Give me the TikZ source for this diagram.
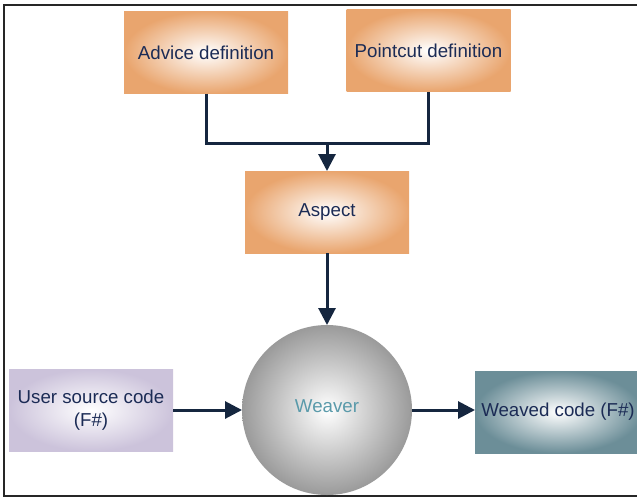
\documentclass[tikz,border=0pt]{standalone}
\usepackage{fontspec}
\setmainfont{Liberation Sans}
\usetikzlibrary{arrows.meta,shadings}
\definecolor{navy}{HTML}{1B2B55}
\definecolor{arrowc}{HTML}{15263F}
\definecolor{orng}{HTML}{E9A56E}
\definecolor{lav}{HTML}{CCC3DB}
\definecolor{teal}{HTML}{6C8E98}
\definecolor{ballg}{HTML}{9A9A9A}
\definecolor{wtext}{HTML}{5A9AAA}
\begin{document}
\begin{tikzpicture}[x=1pt,y=-1pt,
  box/.style={rectangle,inner sep=0pt,outer sep=0pt,minimum width=164pt,minimum height=82pt,
    align=center,text=navy,font=\fontsize{18.7}{23}\selectfont},
  orangebox/.style={box,inner color=white,outer color=orng},
  conn/.style={draw=arrowc,line width=3pt,-{Triangle[length=17pt,width=17pt]}},
  link/.style={draw=arrowc,line width=3pt}]
\useasboundingbox (0,0) rectangle (637,498);
\draw[line width=1.5pt,draw=black!85] (4,5) rectangle (660,496);
\node[orangebox] (adv) at (206,52.5) {Advice definition};
\node[orangebox] (pc) at (428.5,50.5) {Pointcut definition};
\node[orangebox] (asp) at (327,212) {Aspect};
\node[circle,inner sep=0pt,outer sep=0pt,minimum size=170pt,inner color=white,outer color=ballg] (wv) at (327,410) {};
\node[text=wtext,font=\fontsize{18.7}{23}\selectfont] (wvl) at (327,406) {Weaver};
\node[box,inner color=white,outer color=lav] (usr) at (91,410) {User source code\\(F\#)};
\node[box,minimum width=166pt,inner color=white,outer color=teal] (wvd) at (558,412) {Weaved code (F\#)};
\coordinate (j) at (327,143);
\draw[link] (adv.south) |- (j) -| (pc.south);
\draw[conn] (j) -- (asp.north);
\draw[conn] (asp.south) -- (wv.north);
\draw[conn] (usr.east) -- (wv.west);
\draw[conn] (wv.east) -- (wv.east -| wvd.west);
\end{tikzpicture}
\end{document}
